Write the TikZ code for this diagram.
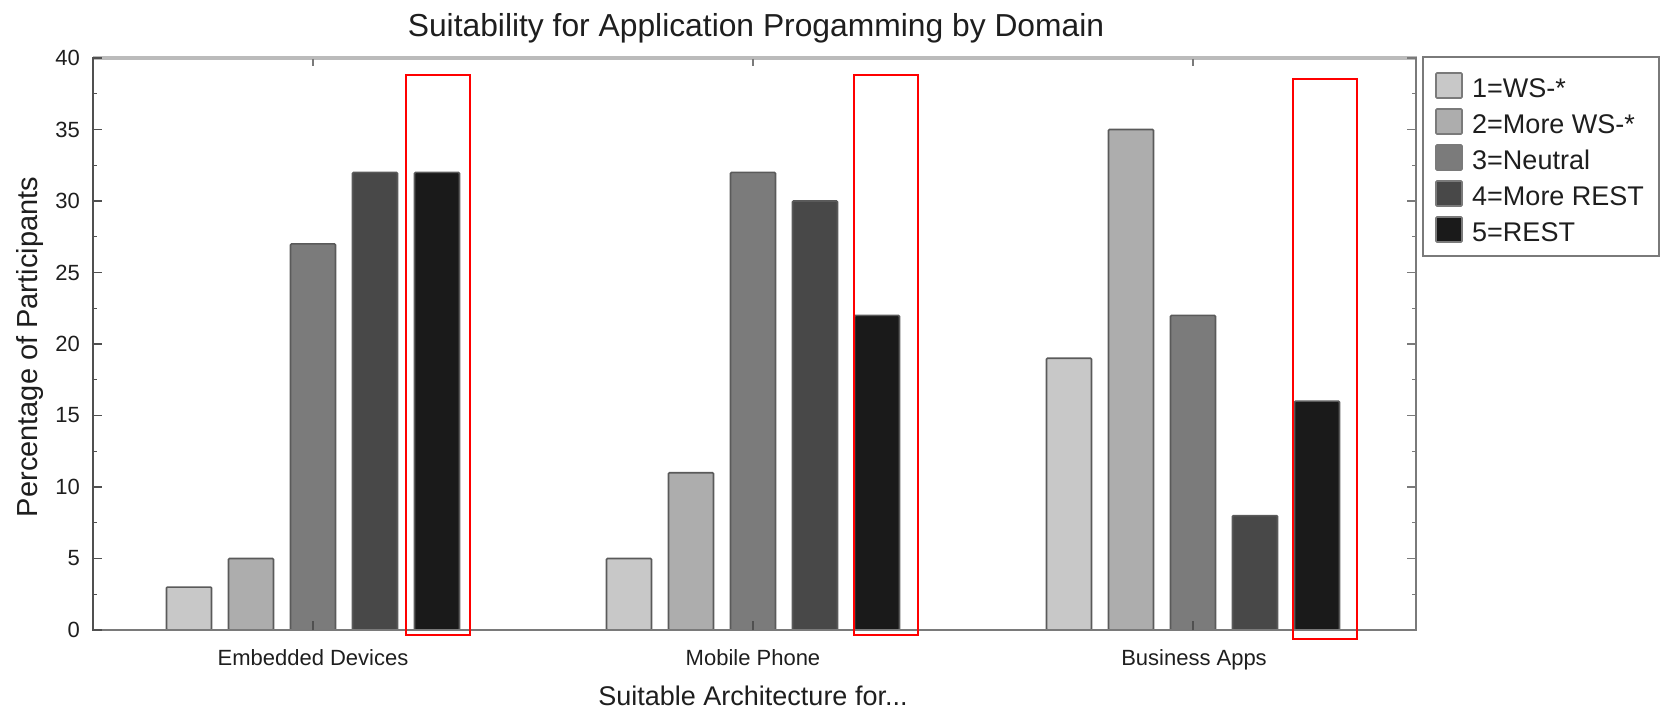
\documentclass[tikz,border=0pt]{standalone}
\usepackage{fontspec}
\setmainfont{Liberation Sans}
\newcommand\myfs[1]{\fontsize{#1}{#1}\selectfont}
\definecolor{c1}{HTML}{C8C8C8}
\definecolor{c2}{HTML}{ADADAD}
\definecolor{c3}{HTML}{7B7B7B}
\definecolor{c4}{HTML}{484848}
\definecolor{c5}{HTML}{1A1A1A}
\definecolor{barline}{HTML}{5A5A5A}
\definecolor{axisdark}{HTML}{505050}
\definecolor{axisgray}{HTML}{7A7A7A}
\definecolor{axislight}{HTML}{BBBBBB}
\definecolor{txt}{HTML}{1E1E1E}
\begin{document}
\begin{tikzpicture}[x=1pt,y=-1pt,
  chartbar/.style={draw=barline, line width=1.6pt, rounded corners=1pt},
  redbox/.style={draw=red, line width=2pt},
  ticklab/.style={anchor=east, inner sep=0pt, text=txt, font=\myfs{22}},
  catlab/.style={anchor=base, inner sep=0pt, text=txt, font=\myfs{22}},
  legsq/.style={draw=axisgray, line width=1.6pt, rounded corners=1pt},
  legtxt/.style={anchor=base west, inner sep=0pt, text=txt, font=\myfs{27}},
  axisline/.style={line width=1.6pt}]
\useasboundingbox (0,0) rectangle (1660,708);
% bars
\foreach \c/\va/\vb/\vc/\vd/\ve in {313/3/5/27/32/32, 753/5/11/32/30/22, 1193/19/35/22/8/16} {
  \foreach \v/\o/\col in {\va/-124/c1, \vb/-62/c2, \vc/0/c3, \vd/62/c4, \ve/124/c5} {
    \draw[chartbar, fill=\col] ({\c+(\o)-22.5},630) rectangle ({\c+(\o)+22.5},{630-\v*14.3});
  }
}
% axes
\draw[axisline, draw=axislight, line width=4pt] (93,58) -- (1417,58);
\draw[axisline, draw=axisdark] (93,57) -- (93,631);
\draw[axisline, draw=axisgray] (93,630) -- (1417,630);
\draw[axisline, draw=axisgray, line width=2pt] (1416,57) -- (1416,631);
% ticks
\foreach \v in {0,5,...,40} {
  \draw[axisdark, line width=1.2pt] (93,{630-\v*14.3}) -- (102,{630-\v*14.3});
  \draw[axisgray, line width=1.2pt] (1416,{630-\v*14.3}) -- (1407,{630-\v*14.3});
  \node[ticklab] (yt\v) at (80,{630-\v*14.3}) {\v};
}
\foreach \v in {2.5,7.5,12.5,17.5,22.5,27.5,32.5,37.5} {
  \draw[axisdark, line width=1.2pt] (93,{630-\v*14.3}) -- (97,{630-\v*14.3});
  \draw[axisgray, line width=1.2pt] (1416,{630-\v*14.3}) -- (1412,{630-\v*14.3});
}
\foreach \c in {313,753,1193} {
  \draw[axisdark, line width=1.2pt] (\c,630) -- (\c,621);
  \draw[axisgray, line width=1.2pt] (\c,59) -- (\c,66);
}
% red boxes
\draw[redbox] (406,75) rectangle (470,635);
\draw[redbox] (854,75) rectangle (918,635);
\draw[redbox] (1293,79) rectangle (1357,639);
% texts
\node[anchor=base, inner sep=0pt, text=txt, font=\myfs{31.8}] (title) at (756,37) {Suitability for Application Progamming by Domain};
\node[rotate=90, inner sep=0pt, text=txt, font=\myfs{29}] (ylab) at (30,347) {Percentage of Participants};
\node[anchor=base, inner sep=0pt, text=txt, font=\myfs{27}] (xlab) at (753,705) {Suitable Architecture for...};
\node[catlab] (cat1) at (313,665) {Embedded Devices};
\node[catlab] (cat2) at (753,665) {Mobile Phone};
\node[catlab] (cat3) at (1194,665) {Business Apps};
% legend
\draw[draw=axisgray, line width=2pt] (1423,57) rectangle (1659,256);
\draw[legsq, fill=c1] (1436,73) rectangle (1462,98);
\draw[legsq, fill=c2] (1436,109) rectangle (1462,134);
\draw[legsq, fill=c3] (1436,145) rectangle (1462,170);
\draw[legsq, fill=c4] (1436,181) rectangle (1462,206);
\draw[legsq, fill=c5] (1436,217) rectangle (1462,242);
\node[legtxt] (l1) at (1472,98) {1=WS-*};
\node[legtxt] (l2) at (1472,134) {2=More WS-*};
\node[legtxt] (l3) at (1472,170) {3=Neutral};
\node[legtxt] (l4) at (1472,206) {4=More REST};
\node[legtxt] (l5) at (1472,242) {5=REST};
\end{tikzpicture}
\end{document}
